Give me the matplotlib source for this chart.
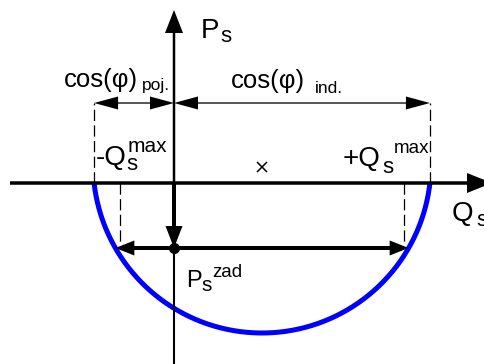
import numpy as np
import matplotlib.pyplot as plt

plt.rcParams['font.family'] = ['Liberation Sans', 'DejaVu Sans']

# diagram values (Q-P plane, origin at axis crossing)
Q_centre = 88          # circle centre (x mark)
P_centre = 19
radius = 169
Q_max_neg = -54        # -Qs^max
Q_max_pos = 230        # +Qs^max
P_zad = -65            # Ps^zad
P_dim = 80             # level of the cos(phi) dimension arrows

# axis extents
Q_axis = (-164, 318)
P_axis_top = 173
P_axis_bottom = -181

fig = plt.figure(figsize=(4.85, 3.64), dpi=100)
ax = fig.add_axes([0, 0, 1, 1])
ax.set_xlim(-174, 311)
ax.set_ylim(-181, 183)
ax.axis('off')

# circle arc below the Q axis
a = np.arcsin(P_centre / radius)
th = np.linspace(np.pi + a, 2 * np.pi - a, 300)
ax.plot(Q_centre + radius * np.cos(th), P_centre + radius * np.sin(th),
        color='#0000ff', lw=3.6, solid_capstyle='butt', zorder=2)

# where the circle meets the Q axis and the Ps^zad line
dq0 = np.sqrt(radius**2 - P_centre**2)
Q_left0, Q_right0 = Q_centre - dq0, Q_centre + dq0
dqz = np.sqrt(radius**2 - (P_zad - P_centre)**2)
Q_leftz, Q_rightz = Q_centre - dqz, Q_centre + dqz


def arr(x0, y0, x1, y1, w, hw, hl):
    ax.arrow(x0, y0, x1 - x0, y1 - y0, width=w, head_width=hw, head_length=hl,
             length_includes_head=True, color='k', lw=0, zorder=4)


# axes
arr(Q_axis[0], 0, Q_axis[1], 0, 3.5, 20, 25)
arr(0, 0, 0, P_axis_top, 2.5, 18, 23)
ax.plot([0, 0], [0, P_axis_bottom], color='k', lw=1.5, zorder=3)

# dashed guides
dash = (0, (9, 3.5))
for q in (Q_left0, Q_right0):
    ax.plot([q, q], [0, P_dim], color='k', lw=0.9, linestyle=dash, zorder=1)
for q in (Q_max_neg, Q_max_pos):
    ax.plot([q, q], [0, P_zad + 3], color='k', lw=0.9, linestyle=dash, zorder=1)

# cos(phi) dimension arrows
mid = (Q_left0 + 0) / 2
arr(mid, P_dim, Q_left0, P_dim, 1.3, 13, 24)
arr(mid, P_dim, 0, P_dim, 1.3, 13, 24)
mid = (0 + Q_right0) / 2
arr(mid, P_dim, 0, P_dim, 1.3, 13, 24)
arr(mid, P_dim, Q_right0, P_dim, 1.3, 13, 24)

# Ps^zad arrows
arr(0, 0, 0, P_zad, 4, 17, 22)
arr(0, P_zad, Q_leftz, P_zad, 4, 15, 19)
arr(0, P_zad, Q_rightz, P_zad, 4, 15, 19)
ax.plot([0], [P_zad], 'o', color='k', ms=7, zorder=5)

# centre mark
ax.plot([Q_centre], [P_centre - 3], 'x', color='k', ms=7, mew=1.1, zorder=5)


def txt(x, y, s, size):
    ax.text(x, y, s, fontsize=size, ha='left', va='baseline', zorder=6)


# labels
txt(27, 145, 'P', 20)
txt(46, 141, 's', 16)

txt(-110, 96, 'cos(φ)', 18.5)
txt(-32, 93, 'poj.', 12.5)
txt(57, 95, 'cos(φ)', 18.5)
txt(141, 90, 'ind.', 12.5)

txt(-78, 18, '-Q', 20)
txt(-48, 13, 's', 16)
txt(-46, 31, 'max', 15)

txt(169, 17, '+Q', 20)
txt(208, 10, 's', 16)
txt(220, 30, 'max', 13.5)

txt(278, -38, 'Q', 20)
txt(302, -43, 's', 16)

txt(12, -104, 'P', 17)
txt(27, -108, 's', 15)
txt(38, -94, 'zad', 13.5)

fig.savefig('out.png', dpi=100)
